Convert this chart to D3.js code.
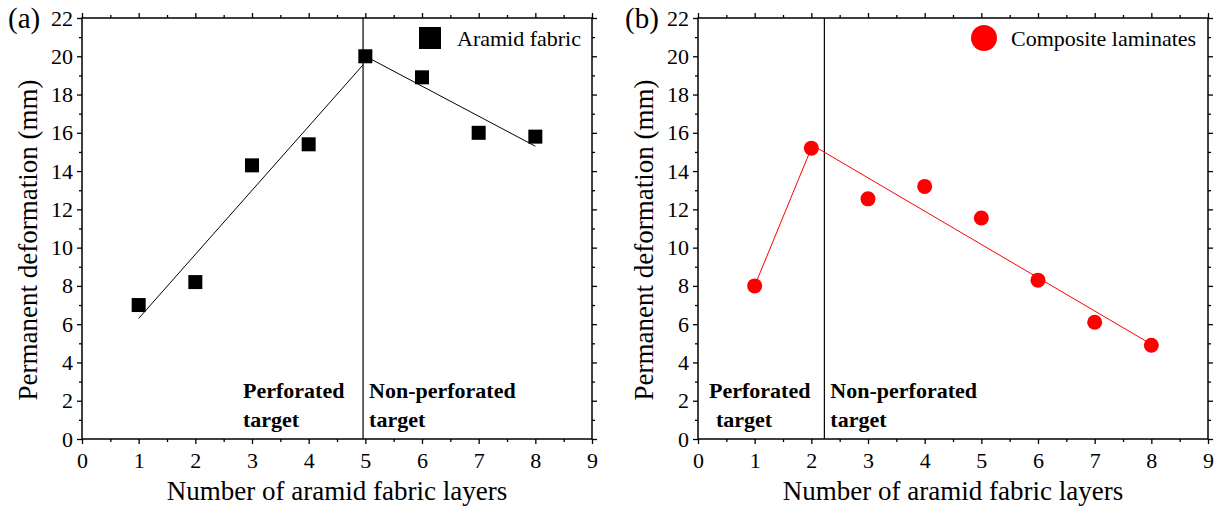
<!DOCTYPE html>
<html>
<head>
<meta charset="utf-8">
<script src="https://cdn.jsdelivr.net/npm/d3@7"></script>
<style>
  html, body { margin: 0; padding: 0; background: #fff; }
  svg { display: block; font-family: "Liberation Serif", "Times New Roman", serif; }
  .axis text { font-family: "Liberation Serif", "Times New Roman", serif; font-size: 22px; fill: #000; }
  .axis line, .axis path { stroke: #000; stroke-width: 1.3; }
</style>
</head>
<body>
<div id="chart"></div>
<script>
// ---- data ----
var layers = [1, 2, 3, 4, 5, 6, 7, 8];
var aramidDeformation = [7.0, 8.2, 14.3, 15.4, 20.0, 18.9, 16.0, 15.8];
var laminateDeformation = [8.0, 15.2, 12.55, 13.2, 11.55, 8.3, 6.1, 4.9];

// fitted trend segments: [layers, deformation]
var aramidFitPerforated = [[1, 6.3], [4.96, 19.55]];
var aramidFitIntact = [[5.1, 19.85], [8, 15.3]];
var laminateFitPerforated = [[1, 8.0], [2, 15.2]];
var laminateFitIntact = [[2.05, 15.3], [8, 4.95]];

// boundary between perforated / non-perforated regimes (layers)
var aramidBoundary = 4.96;
var laminateBoundary = 2.23;

var xTickValues = [0, 1, 2, 3, 4, 5, 6, 7, 8, 9];
var yTickValues = [0, 2, 4, 6, 8, 10, 12, 14, 16, 18, 20, 22];
var xMinorValues = [0.5, 1.5, 2.5, 3.5, 4.5, 5.5, 6.5, 7.5, 8.5];
var yMinorValues = [1, 3, 5, 7, 9, 11, 13, 15, 17, 19, 21];

var xLabel = "Number of aramid fabric layers";
var yLabel = "Permanent deformation (mm)";

var svg = d3.select("#chart").append("svg")
    .attr("width", 1220)
    .attr("height", 510);

function drawPanel(opts) {
    var left = opts.left, top = 18, width = 510, height = 421;

    var x = d3.scaleLinear().domain([0, 9]).range([0, width]);
    var y = d3.scaleLinear().domain([0, 22]).range([height, 0]);

    var g = svg.append("g")
        .attr("transform", "translate(" + left + "," + top + ")");

    // major / minor ticks on all four sides
    function ticks(axisFn, values, size, transform, labels) {
        var a = axisFn.tickValues(values).tickSize(size).tickPadding(4);
        if (!labels) a.tickFormat("");
        var ag = g.append("g").attr("class", "axis")
            .attr("transform", transform || null)
            .call(a)
            .attr("font-family", null)
            .attr("font-size", null);
        ag.select(".domain").remove();
        return ag;
    }
    var bottom = "translate(0," + height + ")";
    var right = "translate(" + width + ",0)";

    var xb = ticks(d3.axisBottom(x), xTickValues, 5, bottom, true);
    xb.selectAll("text").attr("dy", "0.9em");
    ticks(d3.axisBottom(x), xMinorValues, 3, bottom, false);
    ticks(d3.axisTop(x), xTickValues, 5, null, false);
    ticks(d3.axisTop(x), xMinorValues, 3, null, false);

    ticks(d3.axisLeft(y), yTickValues, 5, null, true);
    ticks(d3.axisLeft(y), yMinorValues, 3, null, false);
    ticks(d3.axisRight(y), yTickValues, 5, right, false);
    ticks(d3.axisRight(y), yMinorValues, 3, right, false);

    // frame
    g.append("rect")
        .attr("width", width)
        .attr("height", height)
        .attr("fill", "none")
        .attr("stroke", "#000")
        .attr("stroke-width", 1.5);

    // regime boundary
    g.append("line")
        .attr("x1", x(opts.boundary)).attr("x2", x(opts.boundary))
        .attr("y1", y(22)).attr("y2", y(0))
        .attr("stroke", "#000")
        .attr("stroke-width", 1.2);

    // trend lines
    var line = d3.line()
        .x(function (d) { return x(d[0]); })
        .y(function (d) { return y(d[1]); });
    opts.fits.forEach(function (seg) {
        g.append("path")
            .datum(seg)
            .attr("d", line)
            .attr("fill", "none")
            .attr("stroke", opts.color)
            .attr("stroke-width", 1);
    });

    // markers
    var pts = layers.map(function (l, i) { return [l, opts.values[i]]; });
    if (opts.shape === "square") {
        g.selectAll(".pt").data(pts).enter().append("rect")
            .attr("x", function (d) { return x(d[0]) - 7; })
            .attr("y", function (d) { return y(d[1]) - 7; })
            .attr("width", 14)
            .attr("height", 14)
            .attr("fill", opts.color);
    } else {
        g.selectAll(".pt").data(pts).enter().append("circle")
            .attr("cx", function (d) { return x(d[0]); })
            .attr("cy", function (d) { return y(d[1]); })
            .attr("r", 7.5)
            .attr("fill", opts.color);
    }

    // legend
    var lg = g.append("g").attr("transform", "translate(" + opts.legendX + ",20)");
    if (opts.shape === "square") {
        lg.append("rect").attr("x", -11).attr("y", -11)
            .attr("width", 22).attr("height", 22).attr("fill", opts.color);
    } else {
        lg.append("circle").attr("r", 13).attr("fill", opts.color);
    }
    lg.append("text")
        .attr("x", 27)
        .attr("y", 8)
        .attr("font-size", 22)
        .text(opts.legend);

    // regime annotations
    var ann = [
        { t: "Perforated", x: opts.perfX, y: 380 },
        { t: "target", x: opts.perfX + opts.perfIndent, y: 409 },
        { t: "Non-perforated", x: x(opts.boundary) + 6, y: 380 },
        { t: "target", x: x(opts.boundary) + 6, y: 409 }
    ];
    g.selectAll(".ann").data(ann).enter().append("text")
        .attr("x", function (d) { return d.x; })
        .attr("y", function (d) { return d.y; })
        .attr("font-size", 22)
        .attr("font-weight", "bold")
        .text(function (d) { return d.t; });

    // axis titles
    g.append("text")
        .attr("x", width / 2)
        .attr("y", height + 61)
        .attr("text-anchor", "middle")
        .attr("font-size", 27)
        .text(xLabel);
    g.append("text")
        .attr("transform", "translate(-45," + (222) + ") rotate(-90)")
        .attr("text-anchor", "middle")
        .attr("font-size", 27)
        .text(yLabel);

    // panel tag
    g.append("text")
        .attr("x", opts.tagX)
        .attr("y", 10)
        .attr("font-size", 29)
        .text(opts.tag);
}

drawPanel({
    left: 82, tag: "(a)", tagX: -74,
    values: aramidDeformation, shape: "square", color: "#000",
    fits: [aramidFitPerforated, aramidFitIntact],
    boundary: aramidBoundary,
    legend: "Aramid fabric", legendX: 348,
    perfX: 161, perfIndent: 0
});

drawPanel({
    left: 698, tag: "(b)", tagX: -73,
    values: laminateDeformation, shape: "circle", color: "#ff0000",
    fits: [laminateFitPerforated, laminateFitIntact],
    boundary: laminateBoundary,
    legend: "Composite laminates", legendX: 286,
    perfX: 11, perfIndent: 7
});
</script>
</body>
</html>
